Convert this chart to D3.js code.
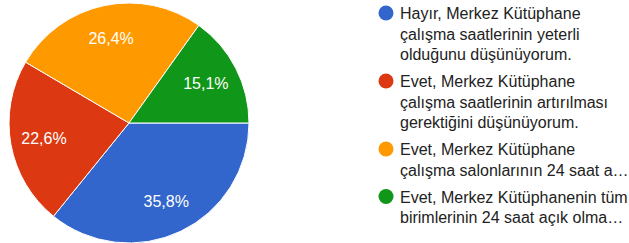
<!DOCTYPE html>
<html>
<head>
<meta charset="utf-8">
<script src="https://cdn.jsdelivr.net/npm/d3@7"></script>
<style>
  html, body { margin: 0; padding: 0; background: #fff; }
  svg { display: block; font-family: Arial, "Liberation Sans", sans-serif; }
</style>
</head>
<body>
<svg id="chart" width="629" height="243"></svg>
<script>
// survey answers, in slice order (clockwise from 3 o'clock)
const categories = [
  ['Hayır, Merkez Kütüphane', 'çalışma saatlerinin yeterli', 'olduğunu düşünüyorum.'],
  ['Evet, Merkez Kütüphane', 'çalışma saatlerinin artırılması', 'gerektiğini düşünüyorum.'],
  ['Evet, Merkez Kütüphane', 'çalışma salonlarının 24 saat a…'],
  ['Evet, Merkez Kütüphanenin tüm', 'birimlerinin 24 saat açık olma…'],
];
const values = [35.8, 22.6, 26.4, 15.1];
const colors = ['#3366cc', '#dc3912', '#ff9900', '#109618'];

const svg = d3.select('#chart');
const cx = 129, cy = 123, r = 120;

const pie = d3.pie().sort(null).value(d => d)
  .startAngle(Math.PI / 2).endAngle(Math.PI / 2 + 2 * Math.PI);
const arcs = pie(values);
const arc = d3.arc().innerRadius(0).outerRadius(r);
const labelArc = d3.arc().innerRadius(r * 0.72).outerRadius(r * 0.72);

const g = svg.append('g').attr('transform', `translate(${cx},${cy})`);
g.selectAll('path.slice')
  .data(arcs)
  .join('path')
  .attr('class', 'slice')
  .attr('d', arc)
  .attr('fill', (d, i) => colors[i])
  .attr('stroke', '#fff')
  .attr('stroke-width', 1);

const fmt = v => d3.format('.1f')(v).replace('.', ',') + '%';
g.selectAll('text.pct')
  .data(arcs)
  .join('text')
  .attr('class', 'pct')
  .attr('x', d => labelArc.centroid(d)[0])
  .attr('y', d => labelArc.centroid(d)[1])
  .attr('dy', '0.35em')
  .attr('text-anchor', 'middle')
  .attr('font-size', 16)
  .attr('fill', '#fff')
  .text(d => fmt(d.data));

// legend
const lineH = 20.5, itemGap = 27;
let y = 19;
const legend = svg.append('g');
categories.forEach((lines, i) => {
  legend.append('circle')
    .attr('cx', 386).attr('cy', y - 6)
    .attr('r', 7.5)
    .attr('fill', colors[i]);
  const t = legend.append('text')
    .attr('font-size', 16).attr('fill', '#222');
  lines.forEach((ln, j) => {
    t.append('tspan').attr('x', 400).attr('y', y + j * lineH).text(ln);
  });
  y += (lines.length - 1) * lineH + itemGap;
});
</script>
</body>
</html>
